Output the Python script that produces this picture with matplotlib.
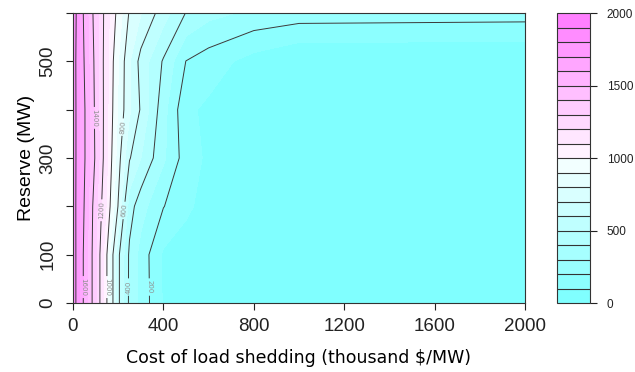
import colorsys
import numpy as np
import matplotlib
matplotlib.use('Agg')
import matplotlib.pyplot as plt

# grid: cost of load shedding (thousand $/MW) x reserve (MW)
cost = [0, 25, 50, 100, 150, 200, 250, 300, 400, 500, 600, 800, 1000, 2000]
reserve = [0, 100, 200, 300, 400, 500, 600]

# total cost surface, one row per reserve level
z_r0 = [1880, 1723, 1573, 1323, 1000, 626, 376, 269, 90, 60, 30, 10, 0, 0]
z_r100 = [1880, 1723, 1573, 1323, 1000, 626, 380, 265, 85, 50, 25, 10, 0, 0]
z_r200 = [1880, 1720, 1595, 1333, 1082, 793, 445, 341, 204, 120, 60, 15, 0, 0]
z_r300 = [1880, 1727, 1614, 1383, 1115, 846, 609, 502, 317, 150, 80, 20, 0, 0]
z_r400 = [1880, 1727, 1614, 1374, 1123, 885, 716, 589, 336, 120, 80, 20, 0, 0]
z_r500 = [1880, 1720, 1595, 1365, 1123, 906, 709, 563, 389, 198, 150, 60, 0, 0]
z_r600 = [1900, 1723, 1573, 1347, 1140, 962, 788, 705, 544, 396, 330, 280, 255, 245]

fill_levels = np.arange(0, 2001, 100)
line_levels = np.arange(200, 1801, 200)
bar_ticks = [0, 500, 1000, 1500, 2000]
x_ticks = [0, 400, 800, 1200, 1600, 2000]
y_ticks = [0, 100, 200, 300, 400, 500, 600]
y_tick_labels = ['0', '100', '', '300', '', '500', '']

# where the contour labels go (cost, reserve)
label_spots = [(88, 383), (217, 364), (115, 192), (217, 192),
               (62, 33), (150, 33), (239, 33), (332, 33)]

Z = np.array([z_r0, z_r100, z_r200, z_r300, z_r400, z_r500, z_r600])
X, Y = np.meshgrid(cost, reserve)

# cyan -> white -> magenta palette, 20 steps
n = len(fill_levels) - 1
k = n // 2
cols = [colorsys.hsv_to_rgb(0.5, s, 1) for s in np.linspace(0.5, 0.5 / k, k)]
cols += [colorsys.hsv_to_rgb(10 / 12, s, 1) for s in np.linspace(0, 0.5, n - k + 1)[1:]]

fig = plt.figure(figsize=(6.35, 3.72), dpi=100)
ax = fig.add_axes([73 / 635, 1 - 303 / 372, 452 / 635, 290 / 372])
cax = fig.add_axes([557 / 635, 1 - 303 / 372, 33 / 635, 290 / 372])

cf = ax.contourf(X, Y, Z, levels=fill_levels, colors=cols)
cs = ax.contour(X, Y, Z, levels=line_levels, colors='#3a3a3a', linewidths=0.7)
ax.clabel(cs, fmt='%d', fontsize=5, colors='#909090', inline=True,
          inline_spacing=2, manual=label_spots)

ax.set_xlim(0, 2000)
ax.set_ylim(0, 600)
ax.set_xticks(x_ticks)
ax.set_xticklabels([str(v) for v in x_ticks], family='Liberation Sans', fontsize=13.5)
ax.set_yticks(y_ticks)
ax.set_yticklabels(y_tick_labels, family='Liberation Sans', fontsize=13.5,
                   rotation=90, va='center')
ax.tick_params(direction='out', length=5, width=0.8, colors='#222222')
ax.tick_params(axis='x', pad=6)
ax.tick_params(axis='y', pad=7)
ax.set_xlabel('Cost of load shedding (thousand $/MW)', family='DejaVu Sans',
              fontsize=12.5, labelpad=10)
ax.set_ylabel('Reserve (MW)', family='Liberation Sans', fontsize=14, labelpad=3)
for sp in ax.spines.values():
    sp.set_linewidth(0.8)
    sp.set_color('#333333')

cb = fig.colorbar(cf, cax=cax, drawedges=True, ticks=bar_ticks)
cb.dividers.set_color('#333333')
cb.dividers.set_linewidth(0.8)
cb.outline.set_linewidth(0.8)
cb.outline.set_edgecolor('#333333')
cax.tick_params(direction='out', length=5, width=0.8, colors='#222222', pad=7)
for t in cax.get_yticklabels():
    t.set_family('Liberation Sans')
    t.set_fontsize(8.5)

fig.savefig('out.png', dpi=100)
